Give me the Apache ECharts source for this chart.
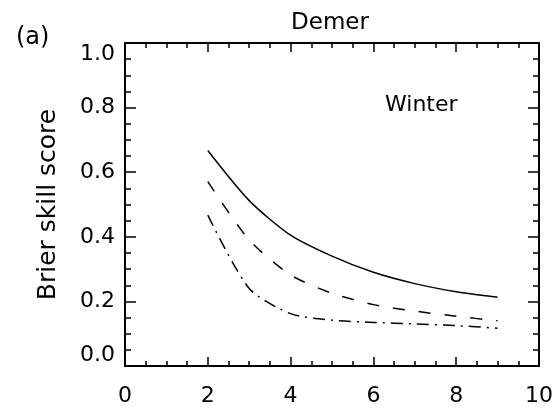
<!DOCTYPE html>
<html>
<head>
<meta charset="utf-8">
<script src="https://cdn.jsdelivr.net/npm/echarts@6/dist/echarts.min.js"></script>
<style>html,body{margin:0;padding:0;background:#fff;}#c{width:556px;height:408px;}</style>
</head>
<body>
<div id="c"></div>
<script>
var leadTimes = [2, 3, 4, 5, 6, 7, 8, 9];
var solidValues = [0.667, 0.512, 0.405, 0.340, 0.290, 0.255, 0.230, 0.213];
var dashedValues = [0.571, 0.390, 0.282, 0.225, 0.190, 0.170, 0.154, 0.140];
var dashDotValues = [0.467, 0.240, 0.162, 0.142, 0.135, 0.130, 0.125, 0.117];
var xTicks = [0, 2, 4, 6, 8, 10];
var yTicks = [0.0, 0.2, 0.4, 0.6, 0.8, 1.0];
var titleText = 'Demer';
var panelText = '(a)';
var seasonText = 'Winter';
var yAxisName = 'Brier skill score';

function pairs(xs, ys) { return xs.map(function (x, i) { return [x, ys[i]]; }); }

var FONT = 'DejaVu Sans';
var chart = echarts.init(document.getElementById('c'), null, { renderer: 'canvas' });
var axisBase = {
  type: 'value',
  axisLine: { show: true, onZero: false, lineStyle: { color: '#000', width: 2 } },
  splitLine: { show: false },
  minorSplitLine: { show: false }
};
chart.setOption({
  animation: false,
  backgroundColor: '#fff',
  title: [
    { text: titleText, left: 325, top: 7, textAlign: 'center',
      textStyle: { fontFamily: FONT, fontSize: 23, fontWeight: 'normal', color: '#000' } },
    { text: panelText, left: 11, top: 21,
      textStyle: { fontFamily: FONT, fontSize: 24, fontWeight: 'normal', color: '#000' } },
    { text: seasonText, left: 380, top: 89,
      textStyle: { fontFamily: FONT, fontSize: 22, fontWeight: 'normal', color: '#000' } }
  ],
  grid: { left: 125, right: 14, top: 43, bottom: 42, containLabel: false },
  xAxis: [
    Object.assign({}, axisBase, {
      position: 'bottom', min: xTicks[0], max: xTicks[xTicks.length - 1], interval: 2,
      axisTick: { show: true, inside: true, length: 9, lineStyle: { color: '#000', width: 1.5 } },
      minorTick: { show: true, splitNumber: 4, length: 5, lineStyle: { color: '#000', width: 1.5 } },
      axisLabel: { show: true, margin: 19, fontFamily: FONT, fontSize: 22, color: '#000',
        formatter: function (v) { return String(v); } }
    }),
    Object.assign({}, axisBase, {
      position: 'top', min: xTicks[0], max: xTicks[xTicks.length - 1], interval: 2,
      axisTick: { show: true, inside: true, length: 9, lineStyle: { color: '#000', width: 1.5 } },
      minorTick: { show: true, splitNumber: 4, length: 5, lineStyle: { color: '#000', width: 1.5 } },
      axisLabel: { show: false }
    })
  ],
  yAxis: [
    Object.assign({}, axisBase, {
      position: 'left', min: yTicks[0], max: yTicks[yTicks.length - 1], interval: 0.2,
      name: yAxisName, nameLocation: 'middle', nameGap: 64, nameRotate: 90,
      nameTextStyle: { fontFamily: FONT, fontSize: 25, color: '#000' },
      axisTick: { show: true, inside: true, length: 11, lineStyle: { color: '#000', width: 1.5 } },
      minorTick: { show: true, splitNumber: 4, length: 6, lineStyle: { color: '#000', width: 1.5 } },
      axisLabel: { show: true, margin: 10, fontFamily: FONT, fontSize: 22, color: '#000',
        verticalAlignMaxLabel: 'top', verticalAlignMinLabel: 'bottom',
        formatter: function (v) { return v.toFixed(1); } }
    }),
    Object.assign({}, axisBase, {
      position: 'right', min: yTicks[0], max: yTicks[yTicks.length - 1], interval: 0.2,
      axisTick: { show: true, inside: true, length: 11, lineStyle: { color: '#000', width: 1.5 } },
      minorTick: { show: true, splitNumber: 4, length: 6, lineStyle: { color: '#000', width: 1.5 } },
      axisLabel: { show: false }
    })
  ],
  series: [
    { type: 'line', data: pairs(leadTimes, solidValues), showSymbol: false, smooth: 0.25,
      lineStyle: { color: '#000', width: 1.5, type: 'solid' } },
    { type: 'line', data: pairs(leadTimes, dashedValues), showSymbol: false, smooth: 0.25,
      lineStyle: { color: '#000', width: 1.5, type: [12, 14] } },
    { type: 'line', data: pairs(leadTimes, dashDotValues), showSymbol: false, smooth: 0.25,
      lineStyle: { color: '#000', width: 1.5, type: [12, 6, 2, 6] } }
  ]
});
</script>
</body>
</html>
